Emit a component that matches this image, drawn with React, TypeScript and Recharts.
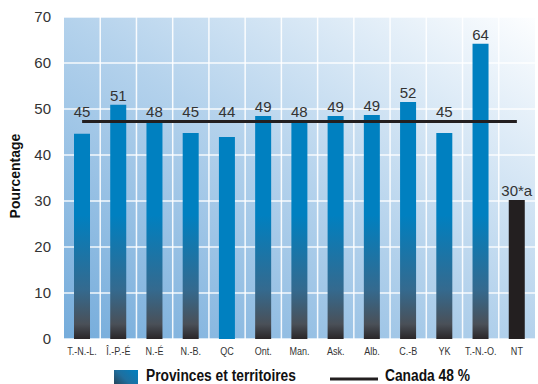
import {
  Bar,
  CartesianGrid,
  Cell,
  ComposedChart,
  LabelList,
  Line,
  XAxis,
  YAxis,
} from "recharts";

const categories = [
  "T.-N.-L.", "Î.-P.-É", "N.-É", "N.-B.", "QC", "Ont.", "Man.",
  "Ask.", "Alb.", "C.-B", "YK", "T.-N.-O.", "NT",
];
const values = [44.6, 50.9, 47.3, 44.8, 43.9, 48.5, 47.3, 48.5, 48.7, 51.5, 44.8, 64.2, 30.2];
const labels = ["45", "51", "48", "45", "44", "49", "48", "49", "49", "52", "45", "64", "30*a"];
const canada = 47.3;
const yTicks = [0, 10, 20, 30, 40, 50, 60, 70];

const data = categories.map((name, i) => ({
  name,
  value: values[i],
  label: labels[i],
  canada,
}));

const ink = "#333";
const dark = "#231f20";
const blue = "#0080c0";
const sans = "'Liberation Sans', Arial, sans-serif";

const fillFor = (name: string) => {
  if (name === "QC") return blue;
  if (name === "NT") return dark;
  return "url(#barFill)";
};

// labels sit above the Canada line when the bar ends just under it
function BarLabel(props: any) {
  const { x, y, width, height, index } = props;
  const v = values[index];
  const perUnit = v ? height / v : 0;
  const lineY = y + height - canada * perUnit;
  const top = v < canada && canada - v < 10 ? lineY : y;
  return (
    <text
      x={x + width / 2}
      y={top - 4}
      textAnchor="middle"
      fill={ink}
      fontSize={15}
      fontFamily={sans}
    >
      {labels[index]}
    </text>
  );
}

function AxisTitle(props: any) {
  const vb = props.viewBox || {};
  const cx = 15;
  const cy = (vb.y ?? 17) + (vb.height ?? 322) / 2 - 2;
  return (
    <text
      x={cx}
      y={cy}
      transform={`rotate(-90 ${cx} ${cy})`}
      textAnchor="middle"
      dominantBaseline="central"
      fill="#111"
      fontSize={14}
      fontWeight="bold"
      fontFamily={sans}
    >
      Pourcentage
    </text>
  );
}

function CatTick(props: any) {
  const { x, y, payload } = props;
  return (
    <text
      x={x}
      y={y}
      dy={9}
      textAnchor="middle"
      fill={ink}
      fontSize={11}
      fontFamily={sans}
      transform={`translate(${x} 0) scale(0.82 1) translate(${-x} 0)`}
    >
      {payload.value}
    </text>
  );
}

function Legend() {
  const txt = {
    position: "absolute" as const,
    top: 0,
    height: 16,
    lineHeight: "16px",
    transform: "scaleX(0.86)",
    transformOrigin: "left center",
    whiteSpace: "nowrap" as const,
  };
  return (
    <div
      style={{
        position: "absolute",
        left: 0,
        top: 368,
        width: 538,
        height: 16,
        overflow: "hidden",
        fontFamily: sans,
        fontWeight: "bold",
        fontSize: 16,
        color: "#111",
      }}
    >
      <svg width={538} height={30} style={{ position: "absolute", left: 0, top: 0 }}>
        <defs>
          <linearGradient id="legFill" x1="0" y1="1" x2="1" y2="0">
            <stop offset="0%" stopColor="#2b2d33" />
            <stop offset="55%" stopColor="#1f6f9f" />
            <stop offset="100%" stopColor={blue} />
          </linearGradient>
        </defs>
        <rect x={114} y={2} width={24} height={24} fill="url(#legFill)" />
        <line x1={330} x2={378} y1={11} y2={11} stroke={dark} strokeWidth={3} />
      </svg>
      <span style={{ ...txt, left: 146 }}>Provinces et territoires</span>
      <span style={{ ...txt, left: 385 }}>Canada 48 %</span>
    </div>
  );
}

export default function App() {
  return (
    <div style={{ position: "absolute", left: 0, top: 0, width: 538, height: 384, overflow: "hidden", background: "#fff" }}>
      <ComposedChart
        width={538}
        height={384}
        data={data}
        margin={{ top: 17, right: 3, left: 0, bottom: 15 }}
        barCategoryGap={0}
      >
        <defs>
          <linearGradient id="bgFill" x1="0" y1="1" x2="1" y2="0">
            <stop offset="0%" stopColor="#75acdb" />
            <stop offset="50%" stopColor="#b4d2ec" />
            <stop offset="100%" stopColor="#fdfeff" />
          </linearGradient>
          <linearGradient id="barFill" gradientUnits="userSpaceOnUse" x1="0" y1="215" x2="0" y2="339">
            <stop offset="0%" stopColor={blue} />
            <stop offset="60%" stopColor="#346a8f" />
            <stop offset="88%" stopColor="#4a5058" />
            <stop offset="100%" stopColor="#2a2628" />
          </linearGradient>
        </defs>
        <CartesianGrid
          fill="url(#bgFill)"
          fillOpacity={1}
          stroke="#ffffff"
          strokeWidth={1.5}
          strokeOpacity={0.9}
          verticalCoordinatesGenerator={({ offset }: any) =>
            categories.slice(1).map((_, i) => offset.left + ((i + 1) * offset.width) / categories.length)
          }
        />
        <XAxis
          dataKey="name"
          interval={0}
          height={30}
          axisLine={false}
          tickLine={false}
          tickSize={0}
          tickMargin={7}
          tick={<CatTick />}
        />
        <YAxis
          width={64}
          domain={[0, 70]}
          ticks={yTicks}
          axisLine={false}
          tickLine={false}
          tickSize={0}
          tickMargin={13}
          tick={{ fill: ink, fontSize: 15, fontFamily: sans }}
          label={<AxisTitle />}
        />
        <Bar dataKey="value" barSize={16} isAnimationActive={false}>
          {data.map((d) => (
            <Cell key={d.name} fill={fillFor(d.name)} />
          ))}
          <LabelList dataKey="label" content={<BarLabel />} />
        </Bar>
        <Line
          dataKey="canada"
          stroke={dark}
          strokeWidth={3}
          dot={false}
          activeDot={false}
          isAnimationActive={false}
        />
      </ComposedChart>
      <Legend />
    </div>
  );
}
